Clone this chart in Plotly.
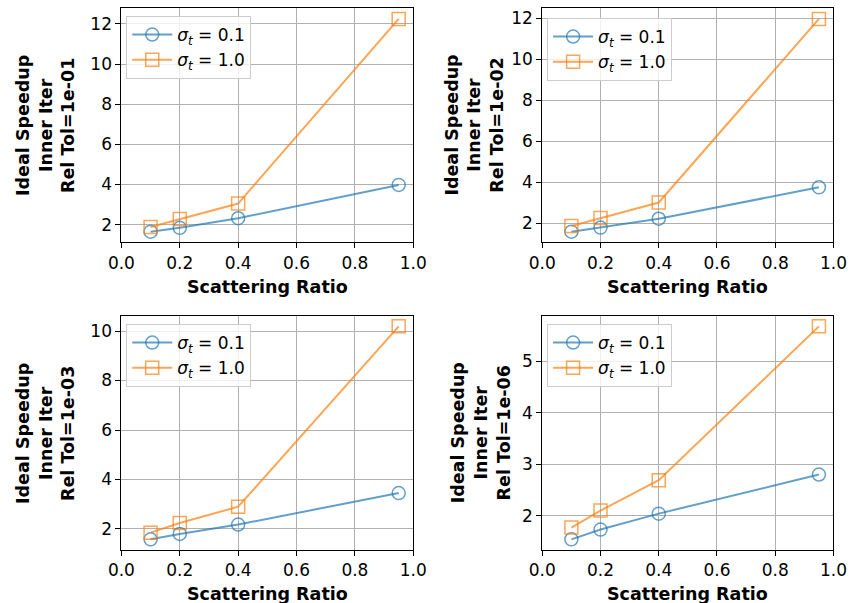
import plotly.graph_objects as go

# ---------------- data ----------------
scattering_ratio = [0.1, 0.2, 0.4, 0.95]
rel_tols = ["1e-01", "1e-02", "1e-03", "1e-06"]

speedup_sig01 = [
    [1.65, 1.84, 2.32, 3.98],
    [1.60, 1.80, 2.23, 3.76],
    [1.58, 1.80, 2.18, 3.45],
    [1.54, 1.73, 2.04, 2.80],
]
speedup_sig10 = [
    [1.88, 2.28, 3.05, 12.25],
    [1.88, 2.26, 3.02, 11.97],
    [1.85, 2.24, 2.90, 10.19],
    [1.77, 2.10, 2.69, 5.68],
]
series_names = ["<i>σ<sub>t</sub></i> = 0.1", "<i>σ<sub>t</sub></i> = 1.0"]
y_dticks = [2, 2, 2, 1]
x_ticks = [0.0, 0.2, 0.4, 0.6, 0.8, 1.0]

# ---------------- layout ----------------
W, H = 862, 603
FONT = "DejaVu Sans"
BLUE = "rgba(31,119,180,0.7)"
ORANGE = "rgba(255,127,14,0.7)"

# pixel boxes of each axes (left, right, top, bottom)
boxes = [
    (111, 412.7, 8.3, 242.3),
    (546, 847, 8.3, 242.3),
    (111, 412.7, 315.7, 550),
    (546, 847, 315.7, 550),
]
legend_pos = [(116, 16), (551, 18), (116, 324), (551, 324)]
ytitle_pos = [(33, 125), (476, 125), (33, 433), (483, 433)]
xtitle_pos = [(262, 287), (696, 287), (262, 594), (696, 594)]

fig = go.Figure()
annotations = []
for i in range(4):
    ax = "" if i == 0 else str(i + 1)
    leg = "legend" if i == 0 else f"legend{i + 1}"
    for vals, name, color, sym in [
        (speedup_sig01[i], series_names[0], BLUE, "circle-open"),
        (speedup_sig10[i], series_names[1], ORANGE, "square-open"),
    ]:
        fig.add_trace(go.Scatter(
            x=scattering_ratio, y=vals, name=name, mode="lines+markers",
            line=dict(color=color, width=2),
            marker=dict(symbol=sym, size=13, color=color, line=dict(color=color, width=1.5)),
            xaxis="x" + ax, yaxis="y" + ax, legend=leg,
        ))
    l, r, t, b = boxes[i]
    allv = speedup_sig01[i] + speedup_sig10[i]
    lo, hi = min(allv), max(allv)
    pad = 0.05 * (hi - lo)
    axis_common = dict(
        showline=True, mirror=True, linecolor="black", linewidth=1,
        ticks="outside", ticklen=5, tickwidth=1, tickcolor="black",
        showgrid=True, gridcolor="#b0b0b0", gridwidth=1, zeroline=False,
        tickfont=dict(family=FONT, size=17, color="black"),
    )
    fig.update_layout(**{
        "xaxis" + ax: dict(
            domain=[l / W, r / W], range=[0, 1], tickvals=x_ticks,
            tickformat=".1f", anchor="y" + ax, **axis_common),
        "yaxis" + ax: dict(
            domain=[1 - b / H, 1 - t / H], range=[lo - pad, hi + pad],
            dtick=y_dticks[i], tick0=0, anchor="x" + ax, **axis_common),
        leg: dict(
            x=legend_pos[i][0] / W, y=1 - legend_pos[i][1] / H,
            xanchor="left", yanchor="top",
            bgcolor="rgba(255,255,255,0.8)", bordercolor="#cccccc", borderwidth=1,
            font=dict(family=FONT, size=17, color="black"),
            tracegroupgap=0, itemwidth=40,
        ),
    })
    annotations.append(dict(
        text=f"<b>Ideal Speedup<br>Inner Iter<br>Rel Tol={rel_tols[i]}</b>",
        xref="paper", yref="paper", x=ytitle_pos[i][0] / W, y=1 - ytitle_pos[i][1] / H,
        xanchor="center", yanchor="middle", textangle=-90, showarrow=False,
        font=dict(family=FONT, size=17.5, color="black"),
    ))
    annotations.append(dict(
        text="<b>Scattering Ratio</b>",
        xref="paper", yref="paper", x=xtitle_pos[i][0] / W, y=1 - xtitle_pos[i][1] / H,
        xanchor="center", yanchor="middle", showarrow=False,
        font=dict(family=FONT, size=17.5, color="black"),
    ))

fig.update_layout(
    width=W, height=H, margin=dict(l=0, r=0, t=0, b=0),
    paper_bgcolor="white", plot_bgcolor="white",
    annotations=annotations,
    font=dict(family=FONT, color="black"),
)
fig.write_html("out.html")
